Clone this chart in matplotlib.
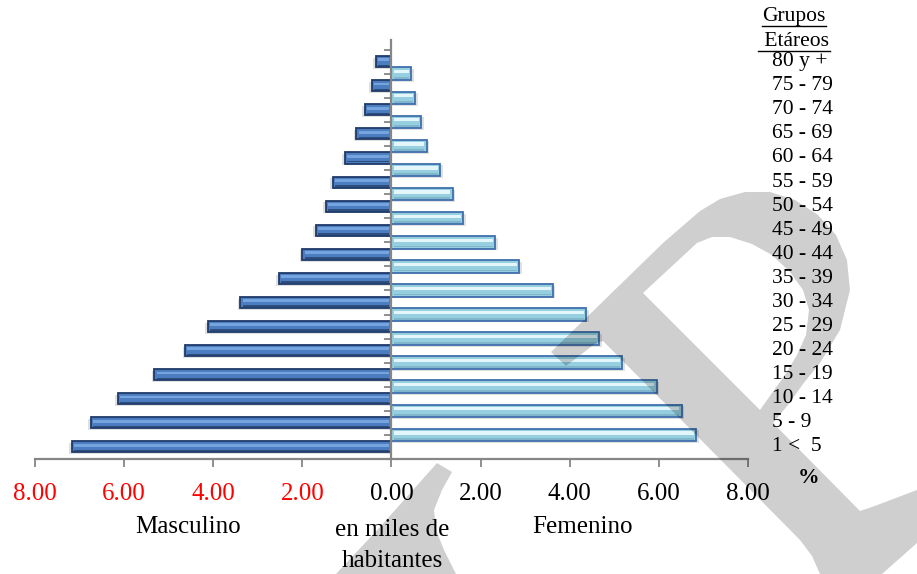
import numpy as np
import matplotlib
matplotlib.use("Agg")
import matplotlib.pyplot as plt
from matplotlib.path import Path
from matplotlib.patches import PathPatch
from matplotlib.lines import Line2D

# datos de la piramide (% por grupo etareo)
grupos = ['1 <  5', '5 - 9', '10 - 14', '15 - 19', '20 - 24', '25 - 29', '30 - 34',
          '35 - 39', '40 - 44', '45 - 49', '50 - 54', '55 - 59', '60 - 64', '65 - 69',
          '70 - 74', '75 - 79', '80 y +']
masculino = [7.17, 6.74, 6.14, 5.32, 4.63, 4.12, 3.39, 2.53, 2.00, 1.70, 1.48, 1.32,
             1.04, 0.79, 0.60, 0.44, 0.35]
femenino = [6.83, 6.51, 5.95, 5.17, 4.66, 4.37, 3.62, 2.86, 2.32, 1.61, 1.37, 1.09,
            0.79, 0.66, 0.53, 0.44]
ticks_x = [-8, -6, -4, -2, 0, 2, 4, 6, 8]

W, H = 917, 574
SERIF = ['Liberation Serif', 'DejaVu Serif']
plt.rcParams['font.family'] = SERIF

fig = plt.figure(figsize=(W / 100, H / 100), dpi=100)
ax = fig.add_axes([35 / W, 1 - 459 / H, (748 - 35) / W, (459 - 40) / H])


def px(x, y):
    return x / W, 1 - y / H


def barras(y, valores, h, base, claro, oscuro, borde):
    v = np.array(valores)
    s = np.sign(v)
    ins = 0.05
    ax.barh(y - 0.07, v + s * 0.06, height=h, color='#9a9a9a', alpha=0.3,
            linewidth=0, zorder=2)
    ax.barh(y, v, height=h, color=base, edgecolor=borde, linewidth=1.3, zorder=3)
    ax.barh(y + h * 0.16, v - s * 2 * ins, left=s * ins, height=h * 0.26,
            color=claro, linewidth=0, zorder=4)
    ax.barh(y - h * 0.33, v - s * 2 * ins, left=s * ins, height=h * 0.14,
            color=oscuro, linewidth=0, zorder=4)


y_m = np.arange(len(masculino))
y_f = np.arange(len(femenino)) + 0.5
barras(y_m, [-v for v in masculino], 0.46, '#4b7dc0', '#76a4de', '#2c4d7e', '#1f3a68')
barras(y_f, femenino, 0.52, '#96d0e0', '#e2f6fb', '#7fb6cc', '#3f6fae')

ax.set_xlim(-8, 8)
ax.set_ylim(-0.5, 16.9)
ax.set_xticks(ticks_x)
ax.set_xticklabels([f"{abs(t):.2f}" for t in ticks_x], fontsize=18)
for lbl, t in zip(ax.get_xticklabels(), ticks_x):
    lbl.set_color('red' if t < 0 else 'black')
ax.set_yticks(np.arange(17) + 0.5)
ax.set_yticklabels([])
ax.tick_params(axis='x', direction='out', length=6, width=1.3, color='#868686', pad=11)
ax.tick_params(axis='y', direction='out', length=5, width=1.3, color='#868686')

for s in ['top', 'right']:
    ax.spines[s].set_visible(False)
ax.spines['left'].set_position(('data', 0))
for s in ['left', 'bottom']:
    ax.spines[s].set_color('#868686')
    ax.spines[s].set_linewidth(1.6)
    ax.spines[s].set_zorder(5)

# etiquetas de grupos a la derecha
for i, g in enumerate(grupos):
    ax.text(1.0 + (772 - 748) / (748 - 35), i, g, transform=ax.get_yaxis_transform(),
            ha='left', va='center', fontsize=15.5)

fig.text(*px(794, 17), 'Grupos', ha='center', va='center', fontsize=15.5)
fig.text(*px(794, 41), ' Etáreos', ha='center', va='center', fontsize=15.5)
fig.add_artist(Line2D([762 / W, 826 / W], [1 - 26 / H] * 2, color='black', lw=1))
fig.add_artist(Line2D([758 / W, 830 / W], [1 - 51 / H] * 2, color='black', lw=1))

fig.text(*px(808, 478), '%', ha='center', va='center', fontsize=15.5, fontweight='bold')
fig.text(*px(188, 527), 'Masculino', ha='center', va='center', fontsize=18)
fig.text(*px(582, 527), 'Femenino', ha='center', va='center', fontsize=18)
fig.text(*px(392, 530), 'en miles de', ha='center', va='center', fontsize=18)
fig.text(*px(392, 561), 'habitantes', ha='center', va='center', fontsize=18)

# marca de agua gris (contorno aproximado, en pixeles de imagen)
exterior = [(551, 352), (566, 366), (596, 343), (603, 341), (610, 348), (800, 540),
            (812, 556), (820, 574), (882, 574), (917, 543), (917, 490), (872, 507),
            (860, 511), (773, 423), (788, 405), (803, 384), (820, 363), (840, 330),
            (850, 290), (847, 260), (836, 235), (818, 215), (795, 200), (770, 192),
            (745, 192), (720, 199), (700, 211), (663, 243)]
hueco = [(643, 293), (697, 243), (712, 237), (730, 237), (752, 244), (772, 255),
         (790, 272), (803, 290), (809, 310), (806, 335), (797, 355), (785, 375),
         (772, 393), (760, 410)]
trazo = [(437, 463), (452, 472), (442, 490), (434, 510), (436, 530), (444, 550),
         (456, 574), (336, 574), (380, 527)]


def area(p):
    a = np.array(p, dtype=float)
    return 0.5 * np.sum(a[:, 0] * np.roll(a[:, 1], -1) - np.roll(a[:, 0], -1) * a[:, 1])


if np.sign(area(exterior)) == np.sign(area(hueco)):
    hueco = hueco[::-1]

verts, codes = [], []
for poly in [exterior, hueco, trazo]:
    pts = [px(x, y) for x, y in poly]
    verts += pts + [pts[0]]
    codes += [Path.MOVETO] + [Path.LINETO] * (len(pts) - 1) + [Path.CLOSEPOLY]
fig.add_artist(PathPatch(Path(verts, codes), transform=fig.transFigure,
                         facecolor='black', alpha=0.19, linewidth=0, zorder=10))

fig.savefig('out.png', dpi=100)
